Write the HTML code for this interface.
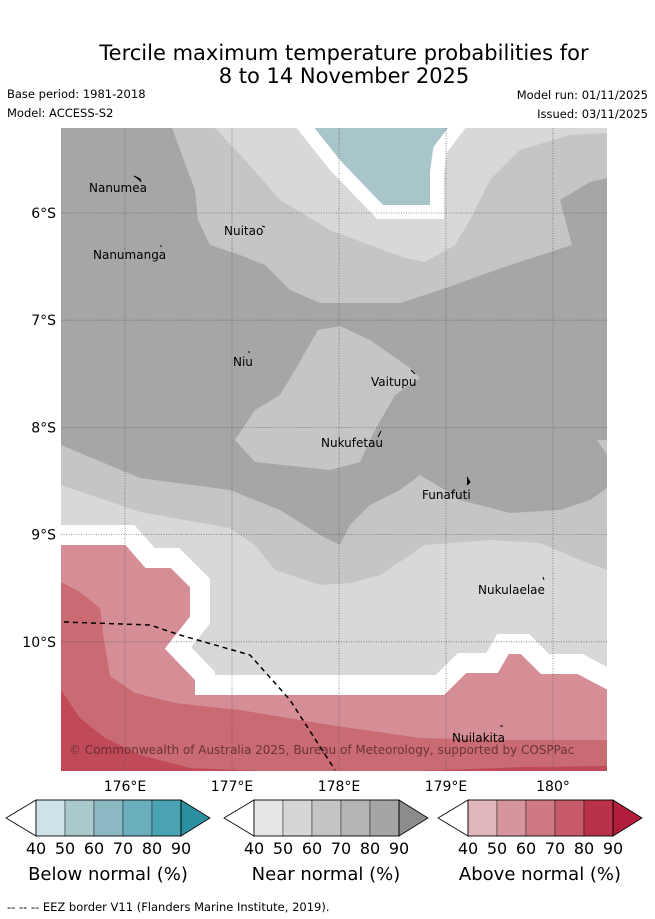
<!DOCTYPE html>
<html><head><meta charset="utf-8"><style>
body{margin:0;background:#fff;width:655px;height:919px;overflow:hidden;font-family:"DejaVu Sans","Liberation Sans",sans-serif}
svg{display:block}
</style></head><body>
<svg id="s" width="655" height="919" viewBox="0 0 655 919" xmlns="http://www.w3.org/2000/svg" font-family="DejaVu Sans, Liberation Sans, sans-serif">
<text x="344" y="60" font-size="21" text-anchor="middle">Tercile maximum temperature probabilities for</text>
<text x="344" y="83" font-size="21" text-anchor="middle">8 to 14 November 2025</text>
<text x="7" y="98" font-size="11.5">Base period: 1981-2018</text>
<text x="7" y="117" font-size="11.5">Model: ACCESS-S2</text>
<text x="648" y="99" font-size="11.5" text-anchor="end">Model run: 01/11/2025</text>
<text x="648" y="118" font-size="11.5" text-anchor="end">Issued: 03/11/2025</text>
<defs><clipPath id="mc"><rect x="61" y="128" width="546" height="643"/></clipPath></defs>
<g clip-path="url(#mc)">
<rect x="61" y="128" width="546" height="643" fill="#a6a6a6"/>
<polygon fill="#c5c5c5" points="172,128 607,128 607,178 590,182 560,200 572,245 510,265 440,290 400,303 320,303 290,290 265,265 240,255 210,245 198,220 195,190"/>
<polygon fill="#d8d8d8" points="215,128 607,128 607,133 570,135 520,150 490,180 470,220 455,245 425,262 405,258 370,245 330,230 280,200 245,160"/>
<polygon fill="#a8c5ca" stroke="#fff" stroke-width="14" stroke-linejoin="miter" points="300,121 462,121 440,150 437,172 437,212 380,212 335,165"/>
<polygon fill="#c5c5c5" points="318,330 340,326 370,340 410,368 420,378 395,395 375,430 360,462 330,470 255,462 235,440 255,410 280,395 295,370"/>
<polygon fill="#c5c5c5" points="597,440 607,440 607,455"/>
<polygon fill="#c5c5c5" points="61,445 140,478 230,490 280,510 320,535 340,545 350,525 370,505 400,490 420,475 445,490 460,500 510,513 560,510 590,500 607,488 607,771 61,771"/>
<polygon fill="#d8d8d8" points="61,485 140,512 230,528 255,545 275,570 320,585 350,583 380,575 410,555 425,545 490,540 540,543 580,560 607,570 607,771 61,771"/>
<polygon fill="#d58e96" stroke="#fff" stroke-width="20" points="50,535 130,535 150,558 175,558 200,583 200,620 178,648 205,676 205,685 440,685 462,663 492,663 503,644 525,644 545,664 580,664 620,685 620,790 50,790"/>
<polygon fill="#ca6a72" points="61,582 80,592 100,608 104,640 110,676 135,693 175,703 240,710 330,725 420,738 500,740 607,740 607,771 61,771"/>
<polygon fill="#c04a57" points="61,690 80,718 105,738 140,755 190,768 260,771 61,771"/>
<polygon fill="#c04a57" points="420,771 520,767 607,766 607,771"/>
<g id="grid" stroke="#555" stroke-width="0.8" stroke-dasharray="1,1.5" opacity="0.8"></g>
<polyline fill="none" stroke="#000" stroke-width="1.5" stroke-dasharray="5,4" points="64,622 150,625 180,635 250,655 290,700 335,770"/>
<g font-size="12" fill="#000">
<text x="89" y="192">Nanumea</text>
<text x="93" y="259">Nanumanga</text>
<text x="224" y="235">Nuitao</text>
<text x="233" y="366">Niu</text>
<text x="371" y="386">Vaitupu</text>
<text x="321" y="447">Nukufetau</text>
<text x="422" y="499">Funafuti</text>
<text x="478" y="594">Nukulaelae</text>
<text x="452" y="742">Nuilakita</text>
</g>
<g stroke="#000" stroke-width="1"><path d="M134 176 l6 3 1 3"/><path d="M160 246 l2 0"/><path d="M262 226 l3 1"/><path d="M248 352 l2 0"/><path d="M411 370 l4 4"/><path d="M381 431 l-3 6"/><path d="M467 477 l3 5 -3 3"/><path d="M543 577 l1 3"/><path d="M500 726 l3 0"/></g>
<text x="69" y="754" font-size="12" fill="#5a2a30" opacity="0.85">© Commonwealth of Australia 2025, Bureau of Meteorology, supported by COSPPac</text>
</g>
<g id="axes" font-size="14"></g>
<g id="cbars"></g>
<text x="7" y="911" font-size="11.5">--  --  -- EEZ border V11 (Flanders Marine Institute, 2019).</text>
</svg>
<script>
const lonTicks=[176,177,178,179,180];
const latTicks=[6,7,8,9,10];
const cbTicks=[40,50,60,70,80,90];
const cbTitles=["Below normal (%)","Near normal (%)","Above normal (%)"];
const cbColors=[["#cde3e8","#a9c9cd","#8bb8c3","#6aaebe","#4aa3b3","#2c8fa0"],["#e6e6e6","#d6d6d6","#c5c5c5","#b5b5b5","#a5a5a5","#8c8c8c"],["#e1b7bc","#d6959c","#cf7a82","#c65a68","#b83148","#b01e3c"]];
var NS="http://www.w3.org/2000/svg";
function xLon(l){return 125+(l-176)*107;}
function yLat(l){return 213+(l-6)*107.2;}
function mk(t,a,p){var e=document.createElementNS(NS,t);for(var k in a)e.setAttribute(k,a[k]);p.appendChild(e);return e;}
var grid=document.getElementById('grid'),axes=document.getElementById('axes');
lonTicks.forEach(function(l){var x=xLon(l);
 var g=mk('line',{x1:x,x2:x,y1:128,y2:771},grid);
 
 
 var t=mk('text',{x:x,y:791,'text-anchor':'middle'},axes);t.textContent=l+'\u00b0'+(l===180?'':'E');
 
 });
latTicks.forEach(function(l){var y=yLat(l);
 var g=mk('line',{x1:61,x2:607,y1:y,y2:y},grid);
 
 
 var t=mk('text',{x:56,y:y+5,'text-anchor':'end'},axes);t.textContent=l+'\u00b0S';
 
 });
var cb=document.getElementById('cbars');
var starts=[36,254,468],bw=29,y0=800,h=36;
starts.forEach(function(s,i){
 var g=mk('g',{},cb);
 
 
 mk('polygon',{points:(s-30)+','+(y0+h/2)+' '+s+','+y0+' '+s+','+(y0+h),fill:'#fff',stroke:'#000','stroke-width':0.8},g);
 for(var k=0;k<cbTicks.length-1;k++){
  var r=mk('rect',{x:s+k*bw,y:y0,width:bw,height:h,fill:cbColors[i][k],stroke:'#000','stroke-width':0.4},g);
  
  }
 var e=s+(cbTicks.length-1)*bw;
 mk('polygon',{points:e+','+y0+' '+(e+29)+','+(y0+h/2)+' '+e+','+(y0+h),fill:cbColors[i][5],stroke:'#000','stroke-width':0.8},g);
 mk('rect',{x:s,y:y0,width:e-s,height:h,fill:'none',stroke:'#000','stroke-width':0.8},g);
 cbTicks.forEach(function(v,k){var t=mk('text',{x:s+k*bw,y:854,'font-size':16,'text-anchor':'middle'},g);t.textContent=v;
  
  });
 var t=mk('text',{x:s+72,y:880,'font-size':18,'text-anchor':'middle'},g);t.textContent=cbTitles[i];
 
 
});
</script>
</body></html>
